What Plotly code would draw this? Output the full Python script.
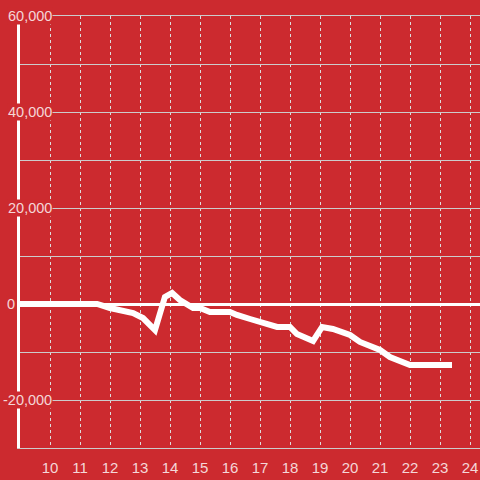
import plotly.graph_objects as go

# hours vs balance
hours = [9.0, 11.57, 12.0, 12.57, 12.77, 13.1, 13.5, 13.83, 14.07, 14.33, 14.77, 15.0,
         15.33, 16.0, 16.23, 16.67, 17.57, 18.0, 18.23, 18.77, 19.07, 19.43, 20.0,
         20.33, 21.0, 21.33, 22.0, 23.4]
balance = [0, 0, -830, -1670, -1880, -2920, -5420, 1460, 2290, 830, -830, -830,
           -1670, -1670, -2290, -3125, -4790, -4790, -6250, -7700, -4790, -5200, -6460,
           -7900, -9580, -11040, -12700, -12700]

x_ticks = list(range(10, 25))
y_labels = [60000, 40000, 20000, 0, -20000]

BG = '#cc2a2f'
TXT = 'rgba(255,255,255,0.82)'
FONT = 'Liberation Sans, Arial, sans-serif'

fig = go.Figure()

fig.add_trace(go.Scatter(
    x=hours,
    y=balance,
    mode='lines',
    line=dict(color='white', width=6),
    hoverinfo='skip',
    showlegend=False,
))

# y labels drawn as annotations with background so they cover the axis line
annotations = []
for v in y_labels:
    annotations.append(dict(
        x=0, xref='paper', y=v, yref='y',
        text=f'{v:,}',
        showarrow=False,
        xanchor='right',
        xshift=-4 if v == 0 else 33,
        bgcolor=BG,
        borderpad=0,
        font=dict(color=TXT, size=14.5, family=FONT),
    ))

fig.update_layout(
    width=480, height=480,
    paper_bgcolor=BG,
    plot_bgcolor=BG,
    margin=dict(l=20, r=0, t=16, b=32),
    font=dict(family=FONT, size=15, color=TXT),
    annotations=annotations,
    xaxis=dict(
        range=[9, 24.333],
        tickvals=x_ticks,
        showgrid=True, gridcolor='#dddddd', gridwidth=1, griddash='dot',
        zeroline=False,
        showline=True, linecolor='#cccccc', linewidth=1, mirror=True,
        ticks='', ticklabelstandoff=6,
        tickfont=dict(color=TXT, size=15, family=FONT),
        automargin=False,
    ),
    yaxis=dict(
        range=[-30000, 60000],
        dtick=10000,
        showgrid=True, gridcolor='#cccccc', gridwidth=1,
        zeroline=True, zerolinecolor='white', zerolinewidth=3,
        showline=True, linecolor='white', linewidth=3,
        showticklabels=False, ticks='',
        automargin=False,
    ),
)

fig.write_html(
    "out.html",
    config={'displayModeBar': False},
    post_script="document.body.style.margin='0';document.body.style.overflow='hidden';",
)
